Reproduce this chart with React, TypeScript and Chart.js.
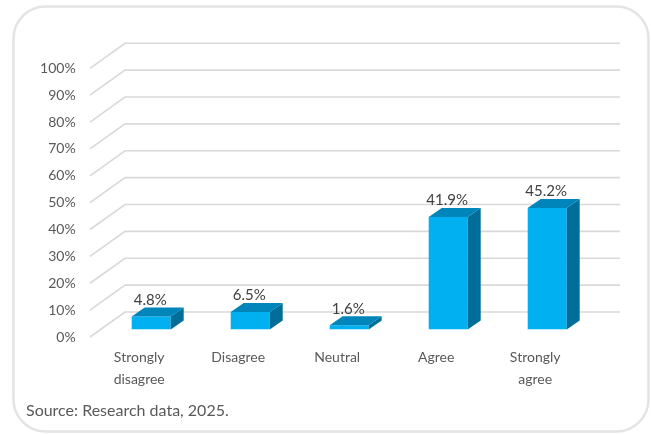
import React, { useEffect, useRef } from "react";
import { Chart, registerables } from "chart.js";

Chart.register(...registerables);

const categories: string[][] = [["Strongly", "disagree"], ["Disagree"], ["Neutral"], ["Agree"], ["Strongly", "agree"]];
const values: number[] = [4.8, 6.5, 1.6, 41.9, 45.2];
const yTicks: number[] = [0, 10, 20, 30, 40, 50, 60, 70, 80, 90, 100];
const sourceText = "Source: Research data, 2025.";

const FONT = "Lato, 'Open Sans', sans-serif";
const FRONT = "#00B0F0";
const TOP = "#0085BA";
const SIDE = "#006E98";
const GRID = "#D9D9D9";

const DEPTH_DX = 13;
const DEPTH_DY = -9;
const WALL_DX = 35;
const WALL_FRONT = 7.5;
const WALL_BACK = -17.5;

const threeD = {
  id: "threeD",
  beforeDraw(chart: any) {
    const ctx = chart.ctx;
    ctx.save();
    ctx.fillStyle = "#ffffff";
    ctx.fillRect(0, 0, chart.width, chart.height);
    ctx.strokeStyle = "#E4E4E4";
    ctx.lineWidth = 2.5;
    ctx.beginPath();
    ctx.roundRect(13.5, 6.5, 635, 425, 32);
    ctx.stroke();
    ctx.restore();
  },
  beforeDatasetsDraw(chart: any) {
    const ctx = chart.ctx;
    const ys = chart.scales.y;
    const area = chart.chartArea;
    const fx = area.left - 11.7;
    const bx = fx + WALL_DX;
    const rx = area.right + 23.3;
    ctx.save();
    ctx.strokeStyle = GRID;
    ctx.lineWidth = 1.6;
    yTicks.forEach((v) => {
      const y = ys.getPixelForValue(v);
      ctx.beginPath();
      ctx.moveTo(fx, y + WALL_FRONT);
      ctx.lineTo(bx, y + WALL_BACK);
      ctx.lineTo(rx, y + WALL_BACK);
      ctx.stroke();
    });
    ctx.restore();
  },
  afterDatasetsDraw(chart: any) {
    const ctx = chart.ctx;
    const meta = chart.getDatasetMeta(0);
    ctx.save();
    meta.data.forEach((bar: any, i: number) => {
      const w = bar.width;
      const l = bar.x - w / 2;
      const r = bar.x + w / 2;
      const t = bar.y;
      const b = bar.base;
      ctx.fillStyle = SIDE;
      ctx.beginPath();
      ctx.moveTo(r, t);
      ctx.lineTo(r + DEPTH_DX, t + DEPTH_DY);
      ctx.lineTo(r + DEPTH_DX, b + DEPTH_DY);
      ctx.lineTo(r, b);
      ctx.closePath();
      ctx.fill();
      ctx.fillStyle = TOP;
      ctx.beginPath();
      ctx.moveTo(l, t);
      ctx.lineTo(l + DEPTH_DX, t + DEPTH_DY);
      ctx.lineTo(r + DEPTH_DX, t + DEPTH_DY);
      ctx.lineTo(r, t);
      ctx.closePath();
      ctx.fill();
      ctx.fillStyle = "#404040";
      ctx.font = `15px ${FONT}`;
      ctx.textAlign = "center";
      ctx.textBaseline = "middle";
      ctx.fillText(values[i].toFixed(1) + "%", bar.x - 1, t - 16.5);
    });
    ctx.fillStyle = "#595959";
    ctx.font = `16px ${FONT}`;
    ctx.textAlign = "left";
    ctx.textBaseline = "alphabetic";
    ctx.fillText(sourceText, 26, 416);
    ctx.restore();
  },
};

export default function App() {
  const ref = useRef<HTMLCanvasElement>(null);
  useEffect(() => {
    if (!ref.current) return;
    const chart = new Chart(ref.current, {
      type: "bar",
      data: {
        labels: categories,
        datasets: [
          {
            data: values,
            backgroundColor: FRONT,
            borderWidth: 0,
            categoryPercentage: 1,
            barPercentage: 0.394,
          },
        ],
      },
      options: {
        responsive: false,
        animation: false,
        devicePixelRatio: 1,
        layout: { padding: { top: 60.8, right: 54.3, left: 0, bottom: 0 } },
        plugins: { legend: { display: false }, tooltip: { enabled: false }, title: { display: false } },
        scales: {
          x: {
            grid: { display: false, drawTicks: false },
            border: { display: false },
            ticks: {
              color: "#595959",
              font: { family: FONT, size: 14, lineHeight: 1.55 },
              padding: 17.5,
              labelOffset: -12,
              maxRotation: 0,
              autoSkip: false,
            },
            afterFit: (s: any) => {
              s.height = 434 - 329.5;
            },
          },
          y: {
            min: 0,
            max: 100,
            grid: { display: false, drawTicks: false },
            border: { display: false },
            ticks: {
              stepSize: 10,
              color: "#595959",
              font: { family: FONT, size: 14 },
              padding: 26,
              labelOffset: 7.5,
              callback: (v: any) => v + "%",
            },
            afterFit: (s: any) => {
              s.width = 101.7;
            },
          },
        },
      },
      plugins: [threeD],
    });
    return () => chart.destroy();
  }, []);
  return (
    <div style={{ position: "fixed", left: 0, top: 0, width: 651, height: 434, background: "#fff" }}>
      <canvas ref={ref} width={651} height={434} style={{ display: "block" }} />
    </div>
  );
}
